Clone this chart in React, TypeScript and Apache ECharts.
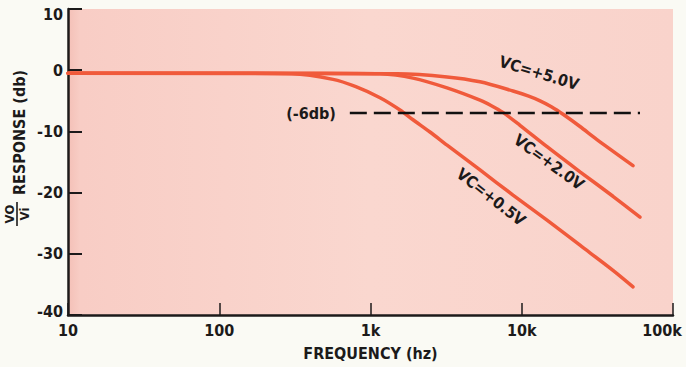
import React, { useEffect, useRef } from "react";
import * as echarts from "echarts";

// Frequencies (Hz) and responses (dB)
const freq05 = [10, 100, 300, 565, 800, 1156, 1567, 1910, 2473, 3192, 5297, 8750, 14690, 24270, 40090, 54400];
const db05 = [-0.5, -0.5, -0.6, -1.5, -2.7, -4.5, -6.5, -8.1, -10.1, -12.2, -16.3, -20.4, -24.5, -28.6, -32.7, -35.4];

const freq20 = [10, 500, 1156, 1910, 3206, 5297, 6300, 7510, 9730, 14690, 24270, 40090, 60500];
const db20 = [-0.5, -0.5, -0.6, -1.3, -2.9, -4.9, -5.8, -6.9, -9, -12.5, -16.6, -20.6, -24];

const freq50 = [10, 1500, 3206, 5297, 8750, 11000, 13210, 15800, 18750, 24270, 31260, 54400];
const db50 = [-0.5, -0.6, -1.1, -1.9, -3.4, -4.2, -5.0, -6.0, -7.2, -9.2, -11.3, -15.6];

const refFreq = [730, 60500];
const refDb = [-7, -7];

const xTickLabels = ["10", "100", "1k", "10k", "100k"];
const yTickValues = [-40, -30, -20, -10, 0, 10];

const FONT = "'DejaVu Sans Condensed', 'DejaVu Sans', sans-serif";
const INK = "#1c1a1a";
const CURVE = "#f05a3b";

const zip = (xs: number[], ys: number[]) => xs.map((x, i) => [x, ys[i]]);

export default function App() {
  const ref = useRef<HTMLDivElement>(null);

  useEffect(() => {
    if (!ref.current) return;
    const chart = echarts.init(ref.current, undefined, { renderer: "svg" });

    const curveSeries = (name: string, xs: number[], ys: number[]) => ({
      name,
      type: "line",
      data: zip(xs, ys),
      smooth: 0.3,
      showSymbol: false,
      symbol: "none",
      lineStyle: { color: CURVE, width: 3.5, cap: "round" },
      z: 3,
    });

    chart.setOption({
      animation: false,
      backgroundColor: "#fafaf4",
      grid: {
        left: 68,
        right: 13,
        top: 9,
        bottom: 52,
        show: true,
        borderWidth: 0,
        backgroundColor: new echarts.graphic.LinearGradient(0, 0, 1, 0, [
          { offset: 0, color: "#f4c0b7" },
          { offset: 0.02, color: "#f8cdc5" },
          { offset: 0.5, color: "#fad7cf" },
          { offset: 1, color: "#f9d3cb" },
        ]),
      },
      xAxis: {
        type: "log",
        logBase: 10,
        min: 10,
        max: 100000,
        splitLine: { show: false },
        minorTick: { show: false },
        axisLine: { show: true, onZero: false, lineStyle: { color: INK, width: 2.5 } },
        axisTick: { show: true, inside: true, length: 12, lineStyle: { color: INK, width: 1.5 } },
        axisLabel: {
          color: INK,
          fontFamily: FONT,
          fontWeight: "bold",
          fontSize: 16,
          margin: 7,
          formatter: (v: number) => {
            const i = Math.round(Math.log10(v)) - 1;
            const t = xTickLabels[i] ?? "";
            return i === 4 ? "{last|" + t + "}" : t;
          },
          rich: {
            last: {
              color: INK,
              fontFamily: FONT,
              fontWeight: "bold",
              fontSize: 16,
              padding: [0, 22, 0, 0],
            },
          },
        },
        name: "FREQUENCY (hz)",
        nameLocation: "middle",
        nameGap: 30,
        nameTextStyle: { color: INK, fontFamily: FONT, fontWeight: "bold", fontSize: 16 },
      },
      yAxis: {
        type: "value",
        min: yTickValues[0],
        max: yTickValues[yTickValues.length - 1],
        interval: 10,
        splitLine: { show: false },
        axisLine: { show: true, onZero: false, lineStyle: { color: INK, width: 2.5 } },
        axisTick: { show: true, inside: true, length: 14, lineStyle: { color: INK, width: 2 } },
        axisLabel: {
          color: INK,
          fontFamily: FONT,
          fontWeight: "bold",
          fontSize: 16,
          margin: 5,
          formatter: (v: number) => {
            if (v === 10) return "{top|10}";
            if (v === -40) return "{bot|-40}";
            return String(v);
          },
          rich: {
            top: { color: INK, fontFamily: FONT, fontWeight: "bold", fontSize: 16, padding: [10, 0, 0, 0] },
            bot: { color: INK, fontFamily: FONT, fontWeight: "bold", fontSize: 16, padding: [0, 0, 8, 0] },
          },
        },
      },
      series: [
        curveSeries("Vc=+0.5V", freq05, db05),
        curveSeries("Vc=+2.0V", freq20, db20),
        curveSeries("Vc=+5.0V", freq50, db50),
        {
          name: "-6db",
          type: "line",
          data: zip(refFreq, refDb),
          showSymbol: false,
          symbol: "none",
          lineStyle: { color: "#111", width: 2.5, type: [17, 7] },
          z: 4,
        },
      ],
      graphic: [
        {
          type: "text",
          x: 311,
          y: 113,
          style: { text: "(-6db)", fill: INK, font: `bold 16px ${FONT}`, align: "center", verticalAlign: "middle" },
        },
        {
          type: "text",
          x: 539,
          y: 73,
          rotation: (-17 * Math.PI) / 180,
          style: { text: "VC=+5.0V", fill: INK, font: `bold 16px ${FONT}`, align: "center", verticalAlign: "middle" },
        },
        {
          type: "text",
          x: 549,
          y: 162,
          rotation: (-36 * Math.PI) / 180,
          style: { text: "VC=+2.0V", fill: INK, font: `bold 16px ${FONT}`, align: "center", verticalAlign: "middle" },
        },
        {
          type: "text",
          x: 491,
          y: 197,
          rotation: (-38 * Math.PI) / 180,
          style: { text: "VC=+0.5V", fill: INK, font: `bold 16px ${FONT}`, align: "center", verticalAlign: "middle" },
        },
        {
          type: "group",
          x: 17,
          y: 214,
          rotation: Math.PI / 2,
          children: [
            {
              type: "text",
              x: 0,
              y: -1,
              style: { text: "VO", fill: INK, font: `bold 13px ${FONT}`, align: "center", verticalAlign: "bottom" },
            },
            {
              type: "rect",
              shape: { x: -12, y: -0.8, width: 24, height: 1.6 },
              style: { fill: INK },
            },
            {
              type: "text",
              x: 0,
              y: 1,
              style: { text: "Vi", fill: INK, font: `bold 13px ${FONT}`, align: "center", verticalAlign: "top" },
            },
            {
              type: "text",
              x: 19,
              y: 2,
              style: { text: "RESPONSE (db)", fill: INK, font: `bold 16px ${FONT}`, align: "left", verticalAlign: "middle" },
            },
          ],
        },
      ],
    });

    return () => chart.dispose();
  }, []);

  return (
    <div
      ref={ref}
      style={{ position: "fixed", left: 0, top: 0, width: 686, height: 367, background: "#fafaf4" }}
    />
  );
}
